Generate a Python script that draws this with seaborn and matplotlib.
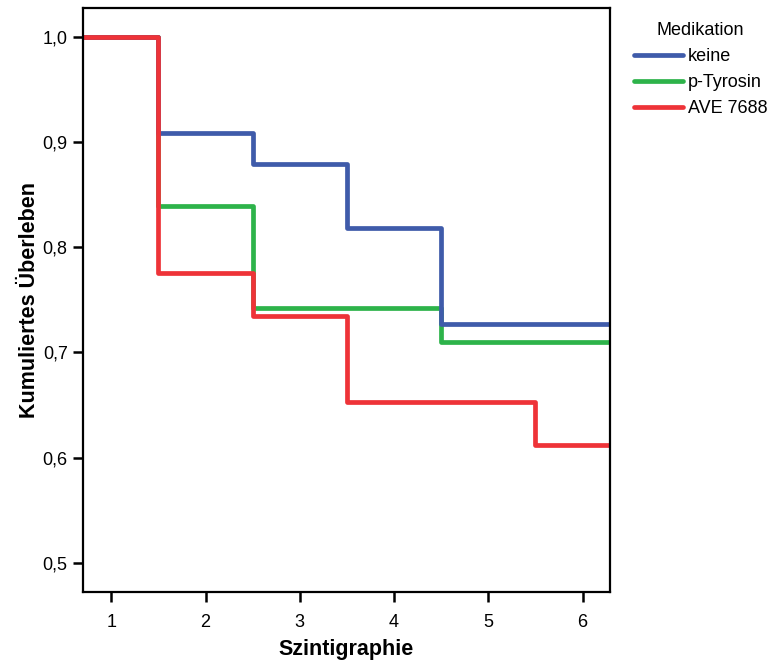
import numpy as np
import pandas as pd
import matplotlib
matplotlib.use("Agg")
import matplotlib.pyplot as plt
import seaborn as sns

# Kaplan-Meier-like cumulative survival per scintigraphy
szintigraphie = [1, 2, 3, 4, 5, 6]
keine = [1.0, 0.909, 0.879, 0.818, 0.727, 0.727]
p_tyrosin = [1.0, 0.839, 0.742, 0.742, 0.710, 0.710]
ave_7688 = [1.0, 0.776, 0.735, 0.653, 0.653, 0.612]

groups = ["keine", "p-Tyrosin", "AVE 7688"]
colors = ["#3F5BAA", "#2DB34A", "#EE3338"]
y_ticks = [0.5, 0.6, 0.7, 0.8, 0.9, 1.0]

x_lim = (0.70, 6.29)
y_lim = (0.4724, 1.0276)

sns.set_style("white")
plt.rcParams["font.family"] = ["Liberation Sans", "DejaVu Sans"]
plt.rcParams["text.color"] = "black"

# extend each curve to the plot edges (value held constant)
rows = []
for name, vals in zip(groups, [keine, p_tyrosin, ave_7688]):
    xs = [x_lim[0]] + szintigraphie + [x_lim[1]]
    ys = [vals[0]] + vals + [vals[-1]]
    for x, y in zip(xs, ys):
        rows.append({"Szintigraphie": x, "Überleben": y, "Medikation": name})
df = pd.DataFrame(rows)

fig = plt.figure(figsize=(7.72, 6.65), dpi=100)
ax = fig.add_axes([0.1075, 0.110, 0.6825, 0.878])

# drawing order: green, blue, then red on top
for i in [1, 0, 2]:
    name, col = groups[i], colors[i]
    sub = df[df["Medikation"] == name]
    sns.lineplot(data=sub, x="Szintigraphie", y="Überleben", ax=ax,
                 color=col, linewidth=3.4, drawstyle="steps-mid",
                 estimator=None, sort=False, label=name)

ax.set_xlim(*x_lim)
ax.set_ylim(*y_lim)
ax.set_xticks(szintigraphie)
ax.set_yticks(y_ticks)
ax.set_yticklabels([f"{v:.1f}".replace(".", ",") for v in y_ticks])
ax.tick_params(axis="both", direction="out", length=7, width=1.8,
               labelsize=13, color="black", labelcolor="black",
               left=True, bottom=True)
ax.tick_params(axis="x", pad=9)
ax.tick_params(axis="y", pad=4)

for sp in ax.spines.values():
    sp.set_visible(True)
    sp.set_color("black")
    sp.set_linewidth(1.6)

ax.set_xlabel("Szintigraphie", fontsize=15.5, fontweight="bold",
              labelpad=6, color="black")
ax.set_ylabel("Kumuliertes Überleben", fontsize=15.5, fontweight="bold",
              labelpad=2, color="black")

handles, labels = ax.get_legend_handles_labels()
order = [labels.index(g) for g in groups]
leg = ax.legend([handles[i] for i in order], [labels[i] for i in order],
                title="Medikation", frameon=False, fontsize=13, title_fontsize=13,
                loc="upper left", bbox_to_anchor=(1.015, 1.004),
                handlelength=2.7, handletextpad=0.28, labelspacing=0.5)

fig.savefig("out.png", dpi=100)
